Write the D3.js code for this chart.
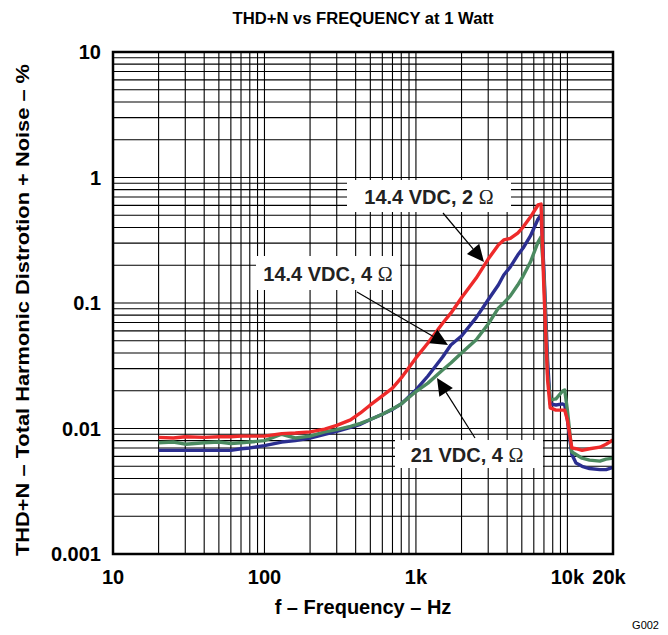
<!DOCTYPE html>
<html><head><meta charset="utf-8">
<script src="https://cdn.jsdelivr.net/npm/d3@7"></script>
<style>
body{margin:0;background:#fff;}
text{font-family:"Liberation Sans",Arial,sans-serif;}
</style></head>
<body>
<svg id="chart" width="668" height="635"></svg>
<script>
const freq = [20,25,30,40,50,60,70,80,100,130,160,200,250,300,370,430,500,600,700,800,1000,1200,1500,1700,2000,2500,3000,3500,3800,4200,4700,5100,5700,6400,6700,7000,7400,7700,8400,9300,9600,10000,10700,11400,12500,14000,16400,18000,20000];
const red14v2 = [0.0085,0.0084,0.0086,0.0085,0.0086,0.0086,0.0087,0.0087,0.0087,0.0091,0.0092,0.0094,0.0099,0.0106,0.0117,0.0133,0.0154,0.0182,0.021,0.0253,0.0365,0.048,0.069,0.083,0.110,0.158,0.224,0.29,0.318,0.327,0.361,0.403,0.484,0.604,0.615,0.127,0.0243,0.0146,0.0140,0.0140,0.0140,0.0117,0.0070,0.0069,0.0067,0.0069,0.0071,0.0075,0.0081];
const blue14v4 = [0.0067,0.0067,0.0067,0.0067,0.0067,0.0067,0.0069,0.0070,0.0073,0.0078,0.0080,0.0084,0.0090,0.0095,0.0102,0.0108,0.0118,0.0130,0.0142,0.0157,0.0203,0.0262,0.0371,0.0463,0.0546,0.0765,0.106,0.139,0.167,0.194,0.241,0.274,0.342,0.467,0.503,0.183,0.035,0.0157,0.0154,0.0157,0.0154,0.0117,0.0062,0.0053,0.0050,0.0048,0.0047,0.0047,0.0049];
const green21v4 = [0.0077,0.0078,0.0075,0.0077,0.0078,0.0076,0.0077,0.0078,0.0080,0.0090,0.0084,0.0087,0.0094,0.0098,0.0104,0.0110,0.0118,0.0130,0.0143,0.0157,0.0197,0.0230,0.0292,0.0333,0.040,0.051,0.068,0.091,0.100,0.114,0.139,0.164,0.212,0.306,0.336,0.167,0.027,0.0169,0.0172,0.0199,0.0203,0.0140,0.0065,0.0062,0.0058,0.0056,0.0055,0.0057,0.0058];
const seriesNames = ["14.4 VDC, 2 \u03A9","14.4 VDC, 4 \u03A9","21 VDC, 4 \u03A9"];
const seriesColors = ["#ee2a2a","#2b2e90","#4b8a60"];
const xTickValues = [10,100,1000,10000,20000];
const xTickLabels = ["10","100","1k","10k","20k"];
const yTickValues = [10,1,0.1,0.01,0.001];
const yTickLabels = ["10","1","0.1","0.01","0.001"];

const svg = d3.select("#chart");
const L=113,R=613,T=52,B=554;
const x = d3.scaleLog().domain([10,20000]).range([L,R]);
const y = d3.scaleLog().domain([0.001,10]).range([B,T]);

// grid
const xMinor=[]; for(let d=10; d<20000; d*=10){ for(let k=1;k<10;k++){ const v=d*k; if(v>10 && v<20000) xMinor.push(v);} }
const yMinor=[]; for(let d=0.001; d<9; d*=10){ for(let k=1;k<10;k++){ const v=d*k; if(v>0.0011 && v<9.9) yMinor.push(v);} }
const g = svg.append("g");
g.selectAll(".vx").data(xMinor).join("line").attr("x1",d=>x(d)).attr("x2",d=>x(d)).attr("y1",T).attr("y2",B).attr("stroke","#000").attr("stroke-width",1.1);
g.selectAll(".hy").data(yMinor).join("line").attr("y1",d=>y(d)).attr("y2",d=>y(d)).attr("x1",L).attr("x2",R).attr("stroke","#000").attr("stroke-width",1.1);

// curves
const data=[red14v2,blue14v4,green21v4];
const line = d3.line().x((d,i)=>x(freq[i])).y(d=>y(d)).curve(d3.curveLinear);
[1,2,0].forEach(k=>{
  svg.append("path").attr("d",line(data[k])).attr("fill","none").attr("stroke",seriesColors[k]).attr("stroke-width",3.4).attr("stroke-linejoin","round");
});

// border
svg.append("rect").attr("x",L).attr("y",T).attr("width",R-L).attr("height",B-T).attr("fill","none").attr("stroke","#000").attr("stroke-width",2.5);

// tick labels
svg.selectAll(".yt").data(yTickValues).join("text").attr("x",101).attr("y",d=>y(d)).attr("dy","0.35em").attr("text-anchor","end").attr("font-weight","bold").attr("font-size",20).text((d,i)=>yTickLabels[i]);
svg.selectAll(".xt").data(xTickValues).join("text").attr("x",d=>d===20000? x(d)-4 : x(d)).attr("y",584).attr("text-anchor","middle").attr("font-weight","bold").attr("font-size",20).text((d,i)=>xTickLabels[i]);

// titles
svg.append("text").attr("x",363).attr("y",24).attr("text-anchor","middle").attr("font-weight","bold").attr("font-size",17.4)
  .attr("textLength",261).attr("lengthAdjust","spacingAndGlyphs").text("THD+N vs FREQUENCY at 1 Watt");
svg.append("text").attr("x",363).attr("y",614).attr("text-anchor","middle").attr("font-weight","bold").attr("font-size",20).text("f \u2013 Frequency \u2013 Hz");
svg.append("text").attr("transform","translate(29,310) rotate(-90)").attr("text-anchor","middle").attr("font-weight","bold").attr("font-size",19)
  .attr("textLength",492).attr("lengthAdjust","spacingAndGlyphs").text("THD+N \u2013 Total Harmonic Distrotion + Noise \u2013 %");
svg.append("text").attr("x",659).attr("y",629).attr("text-anchor","end").attr("font-size",11).text("G002");

// annotations
const ann = [
  {k:0, bx:347, by:180, bw:164, bh:32, tx:429, ty:204, x1:443, y1:213, x2:484, y2:262},
  {k:1, bx:256, by:256, bw:144, bh:34, tx:328, ty:281, x1:357, y1:292, x2:448, y2:345},
  {k:2, bx:395, by:440, bw:148, bh:28, tx:467, ty:462, x1:475, y1:438, x2:437, y2:378}
];
ann.forEach(a=>{
  svg.append("rect").attr("x",a.bx).attr("y",a.by).attr("width",a.bw).attr("height",a.bh).attr("fill","#fff");
  const t = svg.append("text").attr("x",a.tx).attr("y",a.ty).attr("text-anchor","middle").attr("font-size",20).attr("fill","#222");
  const parts = seriesNames[a.k].split("\u03A9");
  t.append("tspan").attr("font-weight","bold").text(parts[0]);
  t.append("tspan").attr("font-family","'Liberation Serif','DejaVu Serif',serif").attr("font-weight","normal").text("\u03A9");
  const ang = Math.atan2(a.y2-a.y1,a.x2-a.x1);
  const hl=17, hw=8;
  const bxp = a.x2 - hl*Math.cos(ang), byp = a.y2 - hl*Math.sin(ang);
  svg.append("line").attr("x1",a.x1).attr("y1",a.y1).attr("x2",bxp).attr("y2",byp).attr("stroke","#000").attr("stroke-width",1.2);
  const p = [[a.x2,a.y2],[bxp + hw*Math.sin(ang), byp - hw*Math.cos(ang)],[bxp - hw*Math.sin(ang), byp + hw*Math.cos(ang)]];
  svg.append("path").attr("d","M"+p.map(q=>q.join(",")).join("L")+"Z").attr("fill","#000");
});
</script>
</body></html>
